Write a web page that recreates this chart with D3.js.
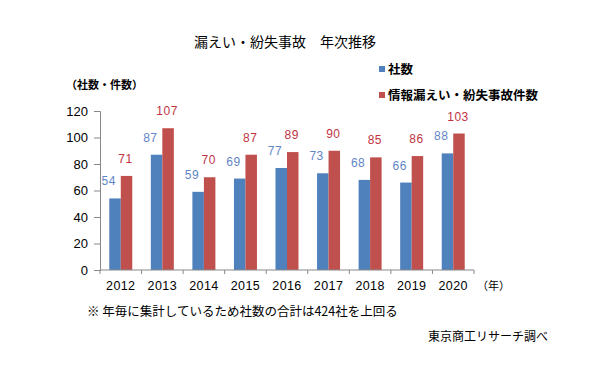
<!DOCTYPE html>
<html>
<head>
<meta charset="utf-8">
<script src="https://cdn.jsdelivr.net/npm/d3@7"></script>
<style>
body { margin: 0; background: #fff; }
svg text { font-family: "Liberation Sans", Arial, sans-serif; }
.jp { font-family: "Noto Sans CJK JP", sans-serif; }
</style>
</head>
<body>
<svg id="chart" width="590" height="367"></svg>
<script>
var years = ["2012", "2013", "2014", "2015", "2016", "2017", "2018", "2019", "2020"];
var companies = [54, 87, 59, 69, 77, 73, 68, 66, 88];
var incidents = [71, 107, 70, 87, 89, 90, 85, 86, 103];
var yTicks = [0, 20, 40, 60, 80, 100, 120];

var svg = d3.select('#chart');
var blue = "#4f81bd", red = "#c0504d";

var x = d3.scaleBand()
    .domain(years)
    .range([100, 474]);

var y = d3.scaleLinear()
    .domain([0, 120])
    .range([270, 111]);

var barW = 11.5;

// title
svg.append("text")
    .attr("class", "jp")
    .attr("x", 285).attr("y", 47)
    .attr("text-anchor", "middle")
    .attr("font-size", "14px")
    .text("漏えい・紛失事故　年次推移");

svg.append("text")
    .attr("class", "jp")
    .attr("x", 66).attr("y", 89)
    .attr("font-size", "11px")
    .attr("font-weight", "bold")
    .text("（社数・件数）");

// bars
years.forEach(function(yr, i) {
    var cx = x(yr) + x.bandwidth() / 2;
    svg.append("rect")
        .attr("x", cx - barW).attr("y", y(companies[i]))
        .attr("width", barW).attr("height", y(0) - y(companies[i]))
        .attr("fill", blue);
    svg.append("rect")
        .attr("x", cx).attr("y", y(incidents[i]))
        .attr("width", barW).attr("height", y(0) - y(incidents[i]))
        .attr("fill", red);
    svg.append("text")
        .attr("x", cx - barW - 0.5).attr("y", y(companies[i]) - 13)
        .attr("text-anchor", "middle")
        .attr("font-size", "12px")
        .attr("letter-spacing", "0.5px")
        .attr("fill", "#5f86c6")
        .text(companies[i]);
    svg.append("text")
        .attr("x", cx + barW / 2 - 1).attr("y", y(incidents[i]) - 13)
        .attr("text-anchor", "middle")
        .attr("font-size", "12px")
        .attr("letter-spacing", "0.5px")
        .attr("fill", "#c0343f")
        .text(incidents[i]);
});

// y axis
var yAxis = d3.axisLeft(y).tickValues(yTicks).tickSize(6).tickPadding(6);
var gy = svg.append("g")
    .attr("transform", "translate(100,0)")
    .call(yAxis);
gy.selectAll("text").attr("font-size", "13px").attr("fill", "#000");
gy.selectAll("path,line").attr("stroke", "#888");

// x axis with ticks at category boundaries
var gx = svg.append("g").attr("transform", "translate(0,270)");
gx.append("line").attr("x1", 100).attr("x2", 474).attr("stroke", "#888");
gx.selectAll(".tk").data(years.concat(["end"])).enter().append("line")
    .attr("x1", function(d, i) { return i < years.length ? x(d) : x.range()[1]; })
    .attr("x2", function(d, i) { return i < years.length ? x(d) : x.range()[1]; })
    .attr("y1", 0).attr("y2", 4)
    .attr("stroke", "#888");
gx.selectAll(".lbl").data(years).enter().append("text")
    .attr("x", function(d) { return x(d) + x.bandwidth() / 2; })
    .attr("y", 20)
    .attr("text-anchor", "middle")
    .attr("font-size", "12.5px")
    .attr("letter-spacing", "0.4px")
    .text(function(d) { return d; });
gx.append("text")
    .attr("class", "jp")
    .attr("x", 477).attr("y", 20)
    .attr("font-size", "11px")
    .text("（年）");

// legend
var legend = [["社数", blue, 74], ["情報漏えい・紛失事故件数", red, 100]];
legend.forEach(function(l) {
    svg.append("rect")
        .attr("x", 379).attr("y", l[2] - 8)
        .attr("width", 6).attr("height", 6)
        .attr("fill", l[1]);
    svg.append("text")
        .attr("class", "jp")
        .attr("x", 388).attr("y", l[2])
        .attr("font-size", "12.5px")
        .attr("font-weight", "bold")
        .text(l[0]);
});

// notes
svg.append("text")
    .attr("class", "jp")
    .attr("x", 87).attr("y", 316)
    .attr("font-size", "12.5px")
    .text("※ 年毎に集計しているため社数の合計は424社を上回る");

svg.append("text")
    .attr("class", "jp")
    .attr("x", 548).attr("y", 341)
    .attr("text-anchor", "end")
    .attr("font-size", "12px")
    .text("東京商工リサーチ調べ");
</script>
</body>
</html>
